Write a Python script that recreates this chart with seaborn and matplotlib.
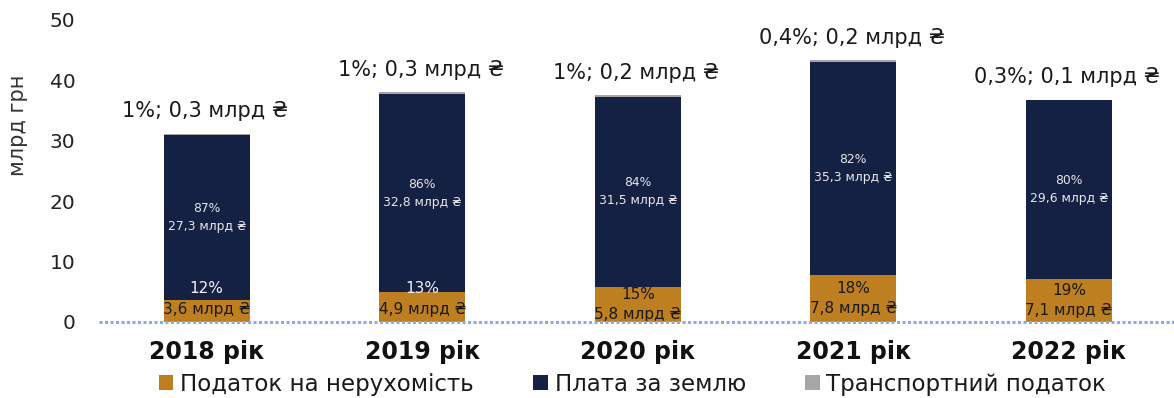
import matplotlib
matplotlib.use("Agg")
import matplotlib.pyplot as plt
from matplotlib.patches import Patch
import seaborn as sns
import pandas as pd

# Local budget revenues from property taxes, bn UAH
years = ["2018 рік", "2019 рік", "2020 рік", "2021 рік", "2022 рік"]
property_tax = [3.6, 4.9, 5.8, 7.8, 7.1]
land_fee = [27.3, 32.8, 31.5, 35.3, 29.6]
transport_tax = [0.3, 0.3, 0.2, 0.2, 0.1]
property_pct = [12, 13, 15, 18, 19]
land_pct = [87, 86, 84, 82, 80]
transport_pct = [1, 1, 1, 0.4, 0.3]

series_names = ["Податок на нерухомість", "Плата за землю", "Транспортний податок"]
C_PROP = "#BD7F20"
C_LAND = "#142142"
C_TRANS = "#A6A6A6"


def fmt(v):
    s = f"{v:g}" if float(v).is_integer() else f"{v:.1f}"
    return s.replace(".", ",")


df = pd.DataFrame({
    "year": years,
    "prop": property_tax,
    "land": land_fee,
    "trans": transport_tax,
})
df["lvl1"] = df["prop"]
df["lvl2"] = df["prop"] + df["land"]
df["lvl3"] = df["lvl2"] + df["trans"]

sns.set_theme(style="white")
plt.rcParams["font.family"] = ["DejaVu Sans"]

fig = plt.figure(figsize=(11.74, 3.98), dpi=100)
ax = fig.add_axes([0.0843, 0.191, 0.9157, 0.7588])

# stacked bars: draw cumulative totals from the top layer down
for col, color in [("lvl3", C_TRANS), ("lvl2", C_LAND), ("lvl1", C_PROP)]:
    sns.barplot(data=df, x="year", y=col, color=color, width=0.4,
                saturation=1, ax=ax, linewidth=0)

ax.set_ylim(0, 50)
ax.set_xlim(-0.5, 4.488)
ax.set_yticks(range(0, 51, 10))
for s in ax.spines.values():
    s.set_visible(False)
ax.tick_params(axis="y", length=0, pad=17, labelsize=14.5, labelcolor="#222222")
ax.tick_params(axis="x", length=0, pad=13, labelsize=17, labelcolor="#111111")
for lab in ax.get_xticklabels():
    lab.set_fontweight("bold")
ax.set_xlabel("")
ax.set_ylabel("млрд грн", fontsize=15, color="#333333")
ax.yaxis.set_label_coords(-0.066, 0.65)

# dotted baseline
ax.axhline(0, color="#8FAADC", linestyle=(0, (1, 0.8)), linewidth=2.2, zorder=5,
           clip_on=False)

for i in range(len(years)):
    p, l, t = property_tax[i], land_fee[i], transport_tax[i]
    # land fee label in the middle of its segment
    ax.annotate(f"{land_pct[i]}%\n{fmt(l)} млрд ₴", xy=(i, p + l / 2),
                ha="center", va="center", fontsize=8.9, color="#E6E6EA",
                linespacing=1.5)
    # property tax label: two lines; short segments get the block lifted
    yc = p / 2 if p >= 5.5 else 3.8
    ax.annotate(f"{fmt(p)} млрд ₴", xy=(i, yc), xytext=(0, -7.5),
                textcoords="offset points", ha="center", va="center",
                fontsize=11, color="#1a1a1a")
    pct_y = yc + 7.5 / 72 * 100 / (302 / 50)
    pct_color = "#F2F2F2" if pct_y > p else "#1a1a1a"
    ax.annotate(f"{property_pct[i]}%", xy=(i, yc), xytext=(0, 7.5),
                textcoords="offset points", ha="center", va="center",
                fontsize=11, color=pct_color)
    # transport tax label above the bar
    ax.annotate(f"{fmt(transport_pct[i])}%; {fmt(t)} млрд ₴", xy=(i, p + l + t),
                xytext=(-1, 16.5), textcoords="offset points", ha="center",
                va="center", fontsize=15, color="#1a1a1a")

handles = [Patch(facecolor=c, edgecolor="none") for c in (C_PROP, C_LAND, C_TRANS)]
fig.legend(handles, series_names, loc="center", bbox_to_anchor=(0.539, 0.035),
           ncol=3, frameon=False, fontsize=16.5, handlelength=0.62,
           handleheight=0.62, handletextpad=0.3, columnspacing=2.6,
           labelcolor="#1a1a1a")

fig.savefig("out.png", dpi=100)
